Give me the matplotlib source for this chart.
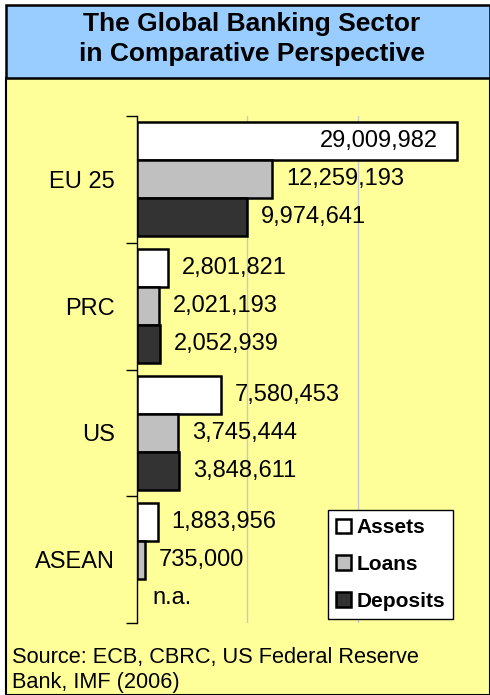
import matplotlib
matplotlib.use("Agg")
import matplotlib.pyplot as plt
from matplotlib.patches import Rectangle, Patch

plt.rcParams['font.family'] = ['Liberation Sans', 'DejaVu Sans']

# Data (values as printed on the bars)
regions = ["EU 25", "PRC", "US", "ASEAN"]
series_names = ["Assets", "Loans", "Deposits"]
assets = [29009982, 2801821, 7580453, 1883956]
loans = [12259193, 2021193, 3745444, 735000]
deposits = [9974641, 2052939, 3848611, None]   # ASEAN deposits not available
series_colors = ["#FFFFFF", "#C0C0C0", "#333333"]
title_lines = ["The Global Banking Sector", "in Comparative Perspective"]
source_lines = ["Source: ECB, CBRC, US Federal Reserve", "Bank, IMF (2006)"]

W, H = 490, 695
fig = plt.figure(figsize=(W / 100, H / 100), dpi=100, facecolor="white")


def fx(x):
    return x / W


def fy(y):
    return 1 - y / H


# Background panels
fig.patches.append(Rectangle((fx(6), fy(695)), fx(490) - fx(6), fy(78) - fy(695),
                             transform=fig.transFigure, facecolor="#FFFF99",
                             edgecolor="black", linewidth=1.5, zorder=-2))
fig.patches.append(Rectangle((fx(6), fy(78)), fx(490) - fx(6), fy(5) - fy(78),
                             transform=fig.transFigure, facecolor="#99CCFF",
                             edgecolor="black", linewidth=1.8, zorder=-1))

fig.text(fx(252), fy(31), title_lines[0], ha="center", va="baseline",
         fontsize=19, fontweight="bold")
fig.text(fx(252), fy(61), title_lines[1], ha="center", va="baseline",
         fontsize=19, fontweight="bold")

fig.text(fx(12), fy(663), source_lines[0], ha="left", va="baseline", fontsize=15.7)
fig.text(fx(12), fy(688), source_lines[1], ha="left", va="baseline", fontsize=15.7)

ax = fig.add_axes([fx(137), fy(623), fx(468) - fx(137), fy(116) - fy(623)])
ax.set_facecolor("none")

bar_h = 0.3
offsets = [-bar_h, 0.0, bar_h]
all_series = [assets, loans, deposits]
for s_idx, (vals, color) in enumerate(zip(all_series, series_colors)):
    for i, v in enumerate(vals):
        y = i + offsets[s_idx]
        if v is None:
            ax.annotate("n.a.", (0, y), xytext=(11, 0), textcoords="offset points",
                        ha="left", va="center", fontsize=17)
            continue
        ax.barh(y, v, height=bar_h, color=color, edgecolor="black",
                linewidth=1.8, zorder=3)
        label = f"{v:,}"
        if v > 25_000_000:
            ax.annotate(label, (v, y), xytext=(-14, 0), textcoords="offset points",
                        ha="right", va="center", fontsize=17, zorder=4)
        else:
            ax.annotate(label, (v, y), xytext=(10, 0), textcoords="offset points",
                        ha="left", va="center", fontsize=17, zorder=4)

ax.set_xlim(0, 30_000_000)
ax.set_ylim(len(regions) - 0.5, -0.5)
ax.set_xticks([10_000_000, 20_000_000])
ax.xaxis.grid(True, color="#C8C8C8", linewidth=1.0, zorder=0)
ax.tick_params(axis="x", length=0, labelbottom=False)

ax.set_yticks([i - 0.5 for i in range(len(regions) + 1)])
ax.set_yticklabels([])
ax.tick_params(axis="y", which="major", length=8, width=1, direction="out")
ax.set_yticks(range(len(regions)), minor=True)
ax.set_yticklabels(regions, minor=True, fontsize=17)
ax.tick_params(axis="y", which="minor", length=0, pad=16)

for side in ["top", "right", "bottom"]:
    ax.spines[side].set_visible(False)
ax.spines["left"].set_linewidth(1)

handles = [Patch(facecolor=c, edgecolor="black", linewidth=1.8) for c in series_colors]
leg = fig.legend(handles, series_names, loc="upper left",
                 bbox_to_anchor=(fx(328), fy(510)), bbox_transform=fig.transFigure,
                 prop={"weight": "bold", "size": 15}, frameon=True, fancybox=False,
                 edgecolor="black", framealpha=1, handlelength=0.7, handleheight=0.7,
                 handletextpad=0.25, labelspacing=0.85, borderpad=0.4, borderaxespad=0)
leg.get_frame().set_linewidth(1)

fig.savefig("out.png", dpi=100, facecolor="white")
